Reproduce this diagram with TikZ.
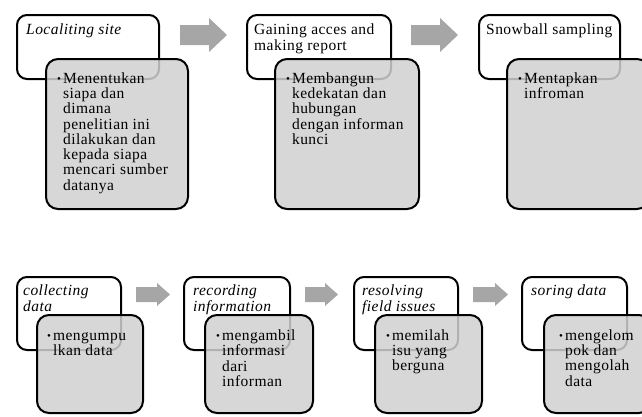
\documentclass[tikz,border=0pt]{standalone}
\usepackage{fontspec}
\setmainfont[LetterSpace=3]{Liberation Serif}
\definecolor{boxgrey}{HTML}{D0D0D0}
\definecolor{arrowgrey}{HTML}{A6A6A6}
\newcommand{\bulletlist}[1]{\begin{tabular}[t]{@{}l@{\hspace{2pt}}l@{}}\raisebox{1pt}{\fontsize{11}{11}\selectfont\textbullet}&\begin{tabular}[t]{@{}l@{}}#1\end{tabular}\end{tabular}}
% block arrow: left x, centre y, length, head width, shaft width, head length
\newcommand{\blockarrow}[6]{\fill[arrowgrey] (#1,#2-#5/2) -- (#1+#3-#6,#2-#5/2) -- (#1+#3-#6,#2-#4/2) -- (#1+#3,#2) -- (#1+#3-#6,#2+#4/2) -- (#1+#3-#6,#2+#5/2) -- (#1,#2+#5/2) -- cycle;}

\begin{document}
\begin{tikzpicture}[x=1pt,y=-1pt,
  titlebox/.style={draw,line width=2pt,rounded corners=10pt,fill=white,anchor=north west,inner sep=0pt},
  infobox/.style={draw,line width=2pt,rounded corners=12pt,fill=boxgrey,fill opacity=0.85,anchor=north west,inner sep=0pt},
  titletext/.style={anchor=north west,inner sep=0pt,align=left,font=\fontsize{15.5}{13.5}\selectfont},
  infotext/.style={anchor=north west,inner sep=0pt,font=\fontsize{15.5}{15}\selectfont}]
  \useasboundingbox (0,0) rectangle (642,416);

  % top row
  \node[titlebox,minimum width=142,minimum height=64] (loc) at (16,14) {};
  \node[infobox,minimum width=142,minimum height=150] (locinfo) at (45,58) {};
  \node[titletext] (loctitle) at (26,24) {\textit{Localiting site}};
  \node[infotext] (loctext) at (57,72.5) {\bulletlist{Menentukan\\siapa dan\\dimana\\penelitian ini\\dilakukan dan\\kepada siapa\\mencari sumber\\datanya}};

  \blockarrow{180}{35}{47}{34}{20}{18}

  \node[titlebox,minimum width=144,minimum height=64] (acc) at (246,14) {};
  \node[infobox,minimum width=144,minimum height=150] (accinfo) at (274,58) {};
  \node[titletext] (acctitle) at (254,24) {Gaining acces and\\making report};
  \node[infotext] (acctext) at (286,72.5) {\bulletlist{Membangun\\kedekatan dan\\hubungan\\dengan informan\\kunci}};

  \blockarrow{411}{35}{47}{34}{20}{18}

  \node[titlebox,minimum width=141,minimum height=64] (snow) at (478,14) {};
  \node[infobox,minimum width=142,minimum height=150] (snowinfo) at (506,58) {};
  \node[titletext] (snowtitle) at (486,24) {Snowball sampling};
  \node[infotext] (snowtext) at (518,72.5) {\bulletlist{Mentapkan\\infroman}};

  % bottom row
  \node[titlebox,minimum width=104,minimum height=73] (col) at (16,276) {};
  \node[infobox,minimum width=106,minimum height=98] (colinfo) at (36,314) {};
  \node[titletext] (coltitle) at (23,285) {\textit{collecting}\\\textit{data}};
  \node[infotext] (coltext) at (47,329.5) {\bulletlist{mengumpu\\lkan data}};

  \blockarrow{136}{294.5}{34}{23}{15}{13}

  \node[titlebox,minimum width=106,minimum height=73] (rec) at (183,276) {};
  \node[infobox,minimum width=108,minimum height=98] (recinfo) at (204,314) {};
  \node[titletext] (rectitle) at (193,285) {\textit{recording}\\\textit{information}};
  \node[infotext] (rectext) at (216,329.5) {\bulletlist{mengambil\\informasi\\dari\\informan}};

  \blockarrow{305}{294.5}{33}{23}{15}{13}

  \node[titlebox,minimum width=104,minimum height=73] (res) at (353,276) {};
  \node[infobox,minimum width=107,minimum height=98] (resinfo) at (374,314) {};
  \node[titletext] (restitle) at (362,285) {\textit{resolving}\\\textit{field issues}};
  \node[infotext] (restext) at (386,329.5) {\bulletlist{memilah\\isu yang\\berguna}};

  \blockarrow{473}{294.5}{35}{23}{15}{13}

  \node[titlebox,minimum width=105,minimum height=73] (sor) at (521,276) {};
  \node[infobox,minimum width=107,minimum height=98] (sorinfo) at (543,314) {};
  \node[titletext] (sortitle) at (531,285) {\textit{soring data}};
  \node[infotext] (sortext) at (559,329.5) {\bulletlist{mengelom\\pok dan\\mengolah\\data}};
\end{tikzpicture}
\end{document}
